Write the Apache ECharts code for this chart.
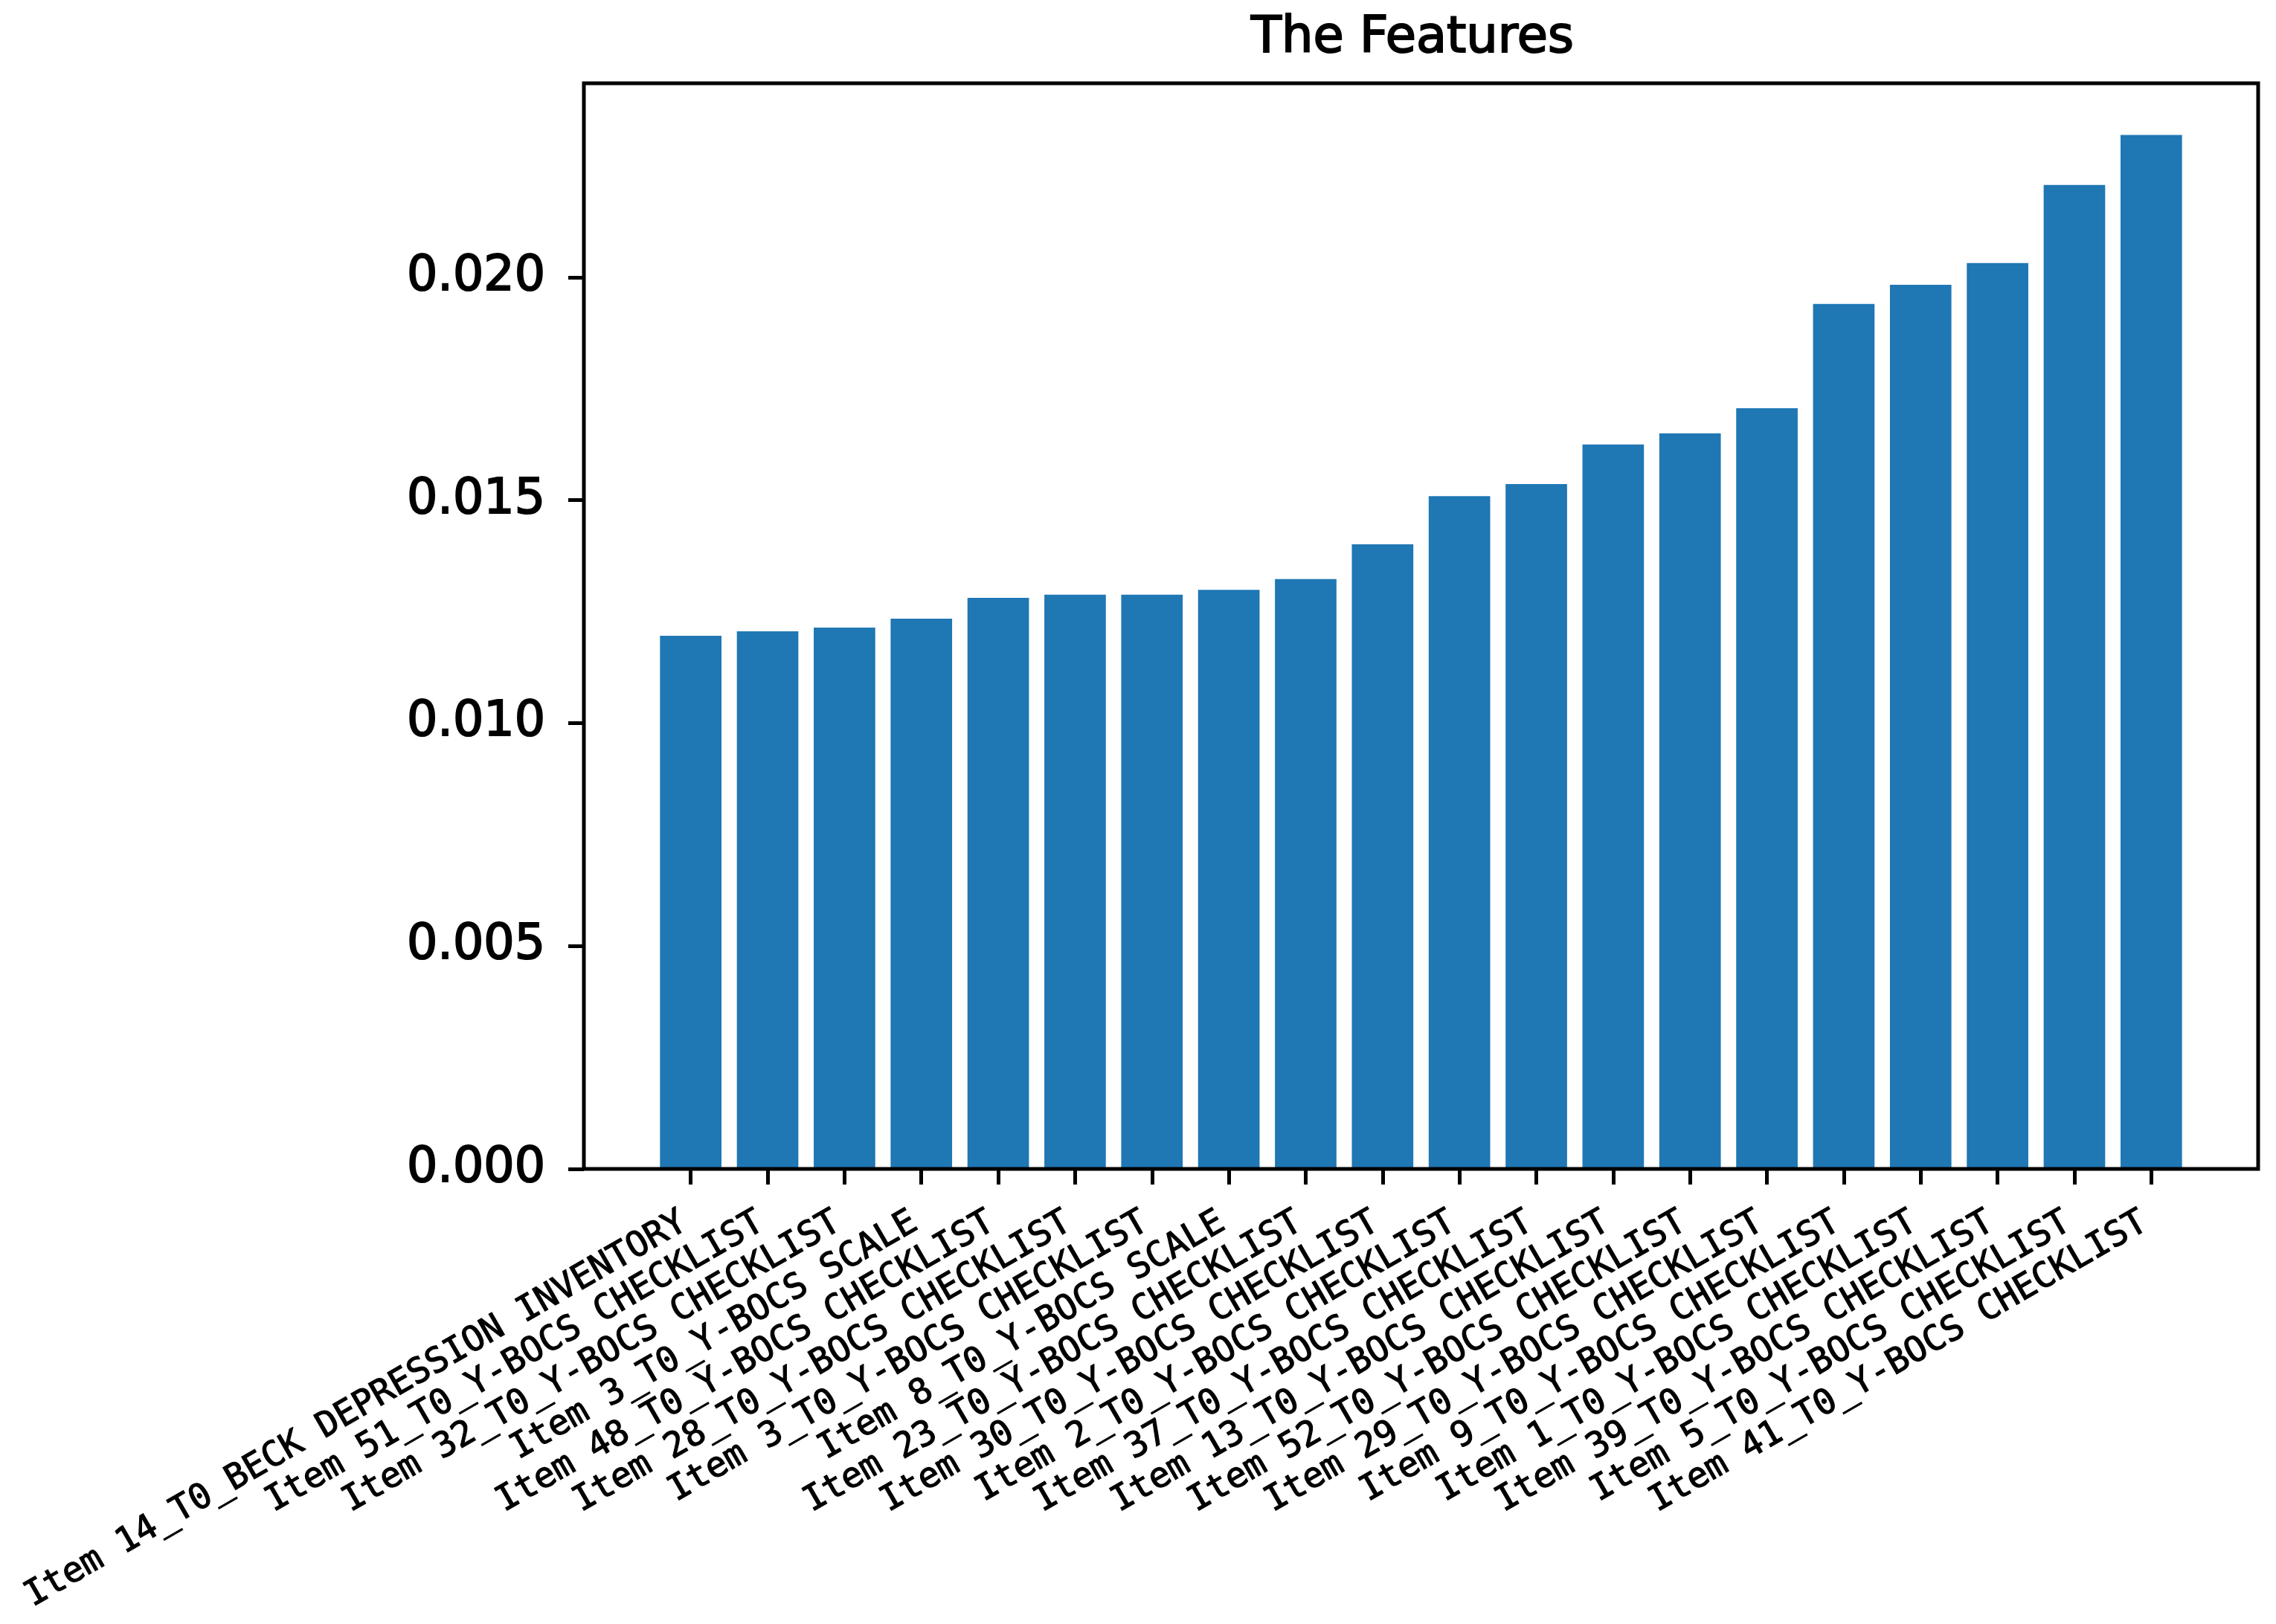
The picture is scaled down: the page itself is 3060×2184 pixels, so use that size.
<!DOCTYPE html>
<html>
<head>
<meta charset="utf-8">
<script src="https://cdn.jsdelivr.net/npm/echarts@6/dist/echarts.min.js"></script>
<style>
  html, body { margin: 0; padding: 0; background: #fff; }
  #chart { width: 3060px; height: 2184px; }
</style>
</head>
<body>
<div id="chart"></div>
<script>
// feature names, in plot order (left to right)
const features = [
  "Item 14_T0_BECK DEPRESSION INVENTORY",
  "Item 51_T0_Y-BOCS CHECKLIST",
  "Item 32_T0_Y-BOCS CHECKLIST",
  "Item 3_T0_Y-BOCS SCALE",
  "Item 48_T0_Y-BOCS CHECKLIST",
  "Item 28_T0_Y-BOCS CHECKLIST",
  "Item 3_T0_Y-BOCS CHECKLIST",
  "Item 8_T0_Y-BOCS SCALE",
  "Item 23_T0_Y-BOCS CHECKLIST",
  "Item 30_T0_Y-BOCS CHECKLIST",
  "Item 2_T0_Y-BOCS CHECKLIST",
  "Item 37_T0_Y-BOCS CHECKLIST",
  "Item 13_T0_Y-BOCS CHECKLIST",
  "Item 52_T0_Y-BOCS CHECKLIST",
  "Item 29_T0_Y-BOCS CHECKLIST",
  "Item 9_T0_Y-BOCS CHECKLIST",
  "Item 1_T0_Y-BOCS CHECKLIST",
  "Item 39_T0_Y-BOCS CHECKLIST",
  "Item 5_T0_Y-BOCS CHECKLIST",
  "Item 41_T0_Y-BOCS CHECKLIST"
];

// importance values
const importance = [
  0.01196, 0.01206, 0.01214, 0.01234, 0.01281,
  0.01288, 0.01288, 0.01299, 0.01323, 0.01401,
  0.01509, 0.01536, 0.01625, 0.01650, 0.01706,
  0.01940, 0.01983, 0.02032, 0.02207, 0.02319
];

const yTicks = [0, 0.005, 0.01, 0.015, 0.02];
const yMax = 0.02435;

const chart = echarts.init(document.getElementById("chart"));

// the reference text is a bit heavier than plain canvas text
const ink = (w) => ({ color: "#000", textBorderColor: "#000", textBorderWidth: w });

chart.setOption({
  animation: false,
  backgroundColor: "#fff",
  title: {
    text: "The Features",
    left: 1682,
    top: 19,
    padding: 0,
    textStyle: Object.assign({
      fontFamily: "DejaVu Sans",
      fontSize: 67,
      fontWeight: "normal"
    }, ink(2))
  },
  grid: [
    // frame (matplotlib spines)
    { left: 785, top: 112, width: 2251, height: 1460, show: true,
      borderColor: "#000", borderWidth: 5, backgroundColor: "transparent", z: 10 },
    // bars area, inset by the 5% x margins
    { left: 877, top: 112, width: 2067, height: 1460 }
  ],
  xAxis: [
    { gridIndex: 0, type: "value", show: false },
    {
      gridIndex: 1,
      type: "category",
      data: features,
      boundaryGap: true,
      axisLine: { show: false },
      axisTick: {
        show: true, alignWithLabel: true, interval: 0, length: 21,
        lineStyle: { color: "#000", width: 5 }
      },
      axisLabel: Object.assign({
        interval: 0,
        rotate: 30,
        margin: 64,
        padding: [0, 10, 0, 0],
        fontFamily: "DejaVu Sans Mono",
        fontSize: 47
      }, ink(1.2)),
      splitLine: { show: false }
    }
  ],
  yAxis: [
    { gridIndex: 0, type: "value", show: false },
    {
      gridIndex: 1,
      type: "value",
      min: 0,
      max: yMax,
      offset: 92,
      axisLine: { show: false },
      axisTick: {
        show: true, length: 21, customValues: yTicks,
        lineStyle: { color: "#000", width: 5 }
      },
      axisLabel: Object.assign({
        customValues: yTicks,
        margin: 52,
        fontFamily: "DejaVu Sans",
        fontSize: 65,
        formatter: (v) => v.toFixed(3)
      }, ink(2)),
      splitLine: { show: false }
    }
  ],
  series: [
    {
      type: "bar",
      xAxisIndex: 1,
      yAxisIndex: 1,
      data: importance,
      barWidth: "80%",
      itemStyle: { color: "#1f77b4" }
    }
  ]
});
</script>
</body>
</html>
